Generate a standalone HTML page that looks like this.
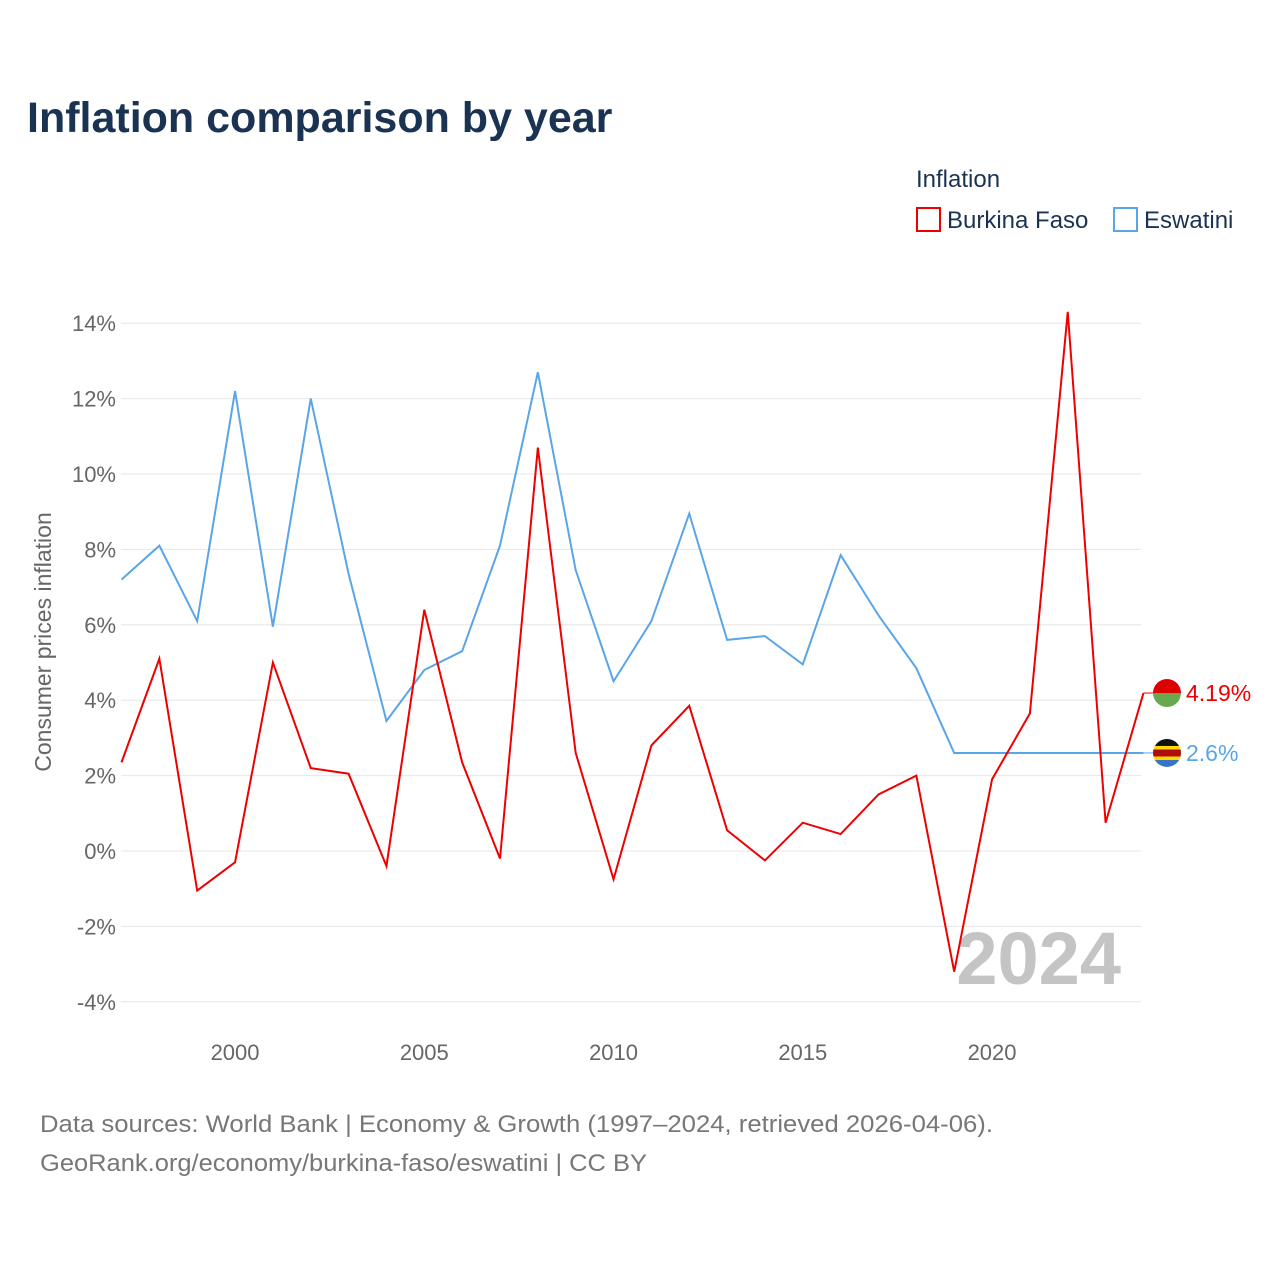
<!DOCTYPE html>
<html><head><meta charset="utf-8"><style>
body{margin:0;background:#fff;font-family:"Liberation Sans",sans-serif;}
svg text{font-family:"Liberation Sans",sans-serif;}
</style></head><body>
<svg id="chart" width="1280" height="1280" viewBox="0 0 1280 1280" xmlns="http://www.w3.org/2000/svg">
<defs id="defs"></defs>
<text x="27" y="132" font-size="43" font-weight="bold" fill="#1b3353">Inflation comparison by year</text>
<text x="916" y="187" font-size="24" fill="#1b3353">Inflation</text>
<g><rect x="917" y="208" width="23" height="23" fill="none" stroke="#ee0000" stroke-width="2"/><text x="947" y="228" font-size="24" fill="#1b3353">Burkina Faso</text></g>
<g><rect x="1114" y="208" width="23" height="23" fill="none" stroke="#5aa5e8" stroke-width="2"/><text x="1144" y="228" font-size="24" fill="#1b3353">Eswatini</text></g>
<g id="grid"></g><g id="yticks"></g><g id="xticks"></g>
<text transform="translate(51,642) rotate(-90)" text-anchor="middle" font-size="23" fill="#666">Consumer prices inflation</text>
<text x="1121" y="984" text-anchor="end" font-size="74" font-weight="bold" fill="#c4c4c4">2024</text>
<g id="series"></g>
<text x="40" y="1132" font-size="24" fill="#777" textLength="953" lengthAdjust="spacingAndGlyphs">Data sources: World Bank | Economy &amp; Growth (1997–2024, retrieved 2026-04-06).</text>
<text x="40" y="1171" font-size="24" fill="#777" textLength="607" lengthAdjust="spacingAndGlyphs">GeoRank.org/economy/burkina-faso/eswatini | CC BY</text>
</svg>
<script>
const years=[1997,1998,1999,2000,2001,2002,2003,2004,2005,2006,2007,2008,2009,2010,2011,2012,2013,2014,2015,2016,2017,2018,2019,2020,2021,2022,2023,2024];
const burkinaFaso=[2.35,5.1,-1.05,-0.3,5.0,2.2,2.05,-0.4,6.4,2.35,-0.2,10.7,2.6,-0.75,2.8,3.85,0.55,-0.25,0.75,0.45,1.5,2.0,-3.2,1.9,3.65,14.3,0.75,4.19];
const eswatini=[7.2,8.1,6.1,12.2,5.95,12.0,7.35,3.45,4.8,5.3,8.1,12.7,7.45,4.5,6.1,8.95,5.6,5.7,4.95,7.85,6.25,4.85,2.6,2.6,2.6,2.6,2.6,2.6];
const yTicks=[-4,-2,0,2,4,6,8,10,12,14];
const xTicks=[2000,2005,2010,2015,2020];
const NS='http://www.w3.org/2000/svg';
const x=v=>121.5+(v-1997)*37.85;
const y=v=>851-v*37.7;
function mk(t,a,p){const e=document.createElementNS(NS,t);for(const k in a)e.setAttribute(k,a[k]);document.getElementById(p).appendChild(e);return e;}
yTicks.forEach(t=>{
  const l=mk('line',{x1:121,x2:1141,y1:y(t),y2:y(t),stroke:'#e6e6e6','stroke-width':1},'grid');
  
  
  const tx=mk('text',{x:116,y:y(t)+8,'text-anchor':'end','font-size':22,fill:'#666'},'yticks');
  
  
  tx.textContent=t+'%';
});
xTicks.forEach(t=>{
  const tx=mk('text',{x:x(t),y:1060,'text-anchor':'middle','font-size':22,fill:'#666'},'xticks');
  
  
  tx.textContent=t;
});
function series(vals,color,name,label,flag){
  const p=mk('polyline',{points:vals.map((v,i)=>x(years[i])+','+y(v)).join(' '),fill:'none',stroke:color,'stroke-width':2,'stroke-linejoin':'miter'},'series');
  
  
  const last=vals[vals.length-1],lx=x(years[years.length-1]),ly=y(last);
  const c=mk('line',{x1:lx,x2:1155,y1:ly,y2:ly,stroke:color,'stroke-width':1},'series');
  
  
  const cp=mk('clipPath',{id:'clip-'+name},'defs');
  const cc=document.createElementNS(NS,'circle');cc.setAttribute('cx',1167);cc.setAttribute('cy',ly);cc.setAttribute('r',14);cp.appendChild(cc);
  const g=mk('g',{'clip-path':'url(#clip-'+name+')'},'series');
  
  
  flag.forEach((f,i)=>{const r=document.createElementNS(NS,'rect');r.setAttribute('x',1153);r.setAttribute('y',ly-14+i*28/flag.length);r.setAttribute('width',28);r.setAttribute('height',28/flag.length+0.5);r.setAttribute('fill',f);g.appendChild(r);});
  const t=mk('text',{x:1186,y:ly+8,'font-size':23,fill:color},'series');
  
  
  t.textContent=label;
}
series(eswatini,'#5aa5e8','eswatini','2.6%',['#111','#111','#ffd900','#b10c0c','#b10c0c','#ffd900','#3a75c4','#3a75c4']);
series(burkinaFaso,'#ee0000','burkina-faso','4.19%',['#de0000','#6aa84f']);
</script>
</body></html>
